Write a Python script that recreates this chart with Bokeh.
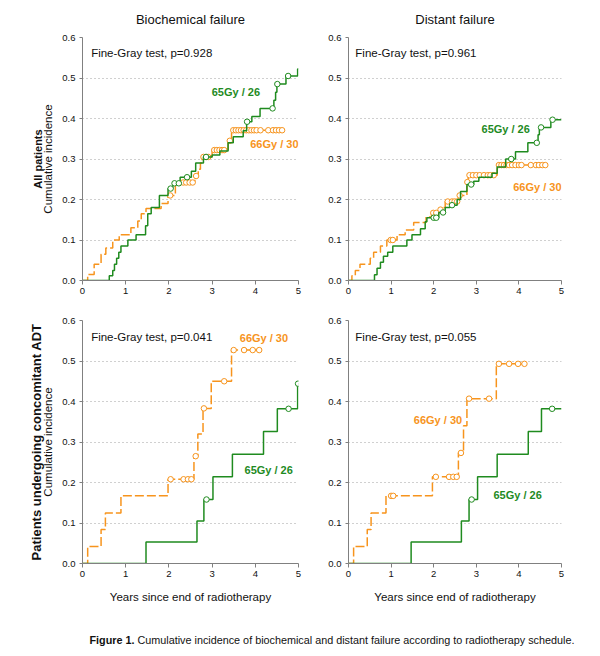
import numpy as np
from bokeh.plotting import figure
from bokeh.models import Range1d, Label, Title, FixedTicker, PrintfTickFormatter, LinearAxis
from bokeh.layouts import column, row
from bokeh.embed import file_html
from bokeh.resources import INLINE

FONT = "Liberation Sans"
GREEN = "#1f8b1f"
ORANGE = "#f7941d"
TXT = "#111111"

x_ticks = [0, 1, 2, 3, 4, 5]
y_ticks = [0.0, 0.1, 0.2, 0.3, 0.4, 0.5, 0.6]

col_titles = ["Biochemical failure", "Distant failure"]
row_titles = ["All patients", "Patients undergoing concomitant ADT"]
y_label = "Cumulative incidence"
x_label = "Years since end of radiotherapy"
series_names = ["65Gy / 26", "66Gy / 30"]
p_texts = ["Fine-Gray test, p=0.928", "Fine-Gray test, p=0.961",
           "Fine-Gray test, p=0.041", "Fine-Gray test, p=0.055"]
caption_bold = "Figure 1."
caption_text = "Cumulative incidence of biochemical and distant failure according to radiotherapy schedule."

# ---- Biochemical failure, all patients ----
bf_all_65_t = [0.62, 0.70, 0.74, 0.79, 0.84, 0.89, 1.05, 1.24, 1.46, 1.51, 1.59, 1.78, 1.98,
               2.09, 2.26, 2.52, 2.62, 2.80, 3.00, 3.18, 3.37, 3.49, 3.72, 3.80, 3.92,
               4.11, 4.43, 4.47, 4.50, 4.71, 4.98]
bf_all_65_v = [0.012, 0.025, 0.04, 0.055, 0.07, 0.085, 0.10, 0.113, 0.135, 0.165, 0.18, 0.21, 0.227,
               0.24, 0.255, 0.27, 0.29, 0.305, 0.31, 0.32, 0.34, 0.355, 0.37, 0.392, 0.405,
               0.425, 0.445, 0.465, 0.485, 0.505, 0.522]
bf_all_65_c = [2.04, 2.13, 2.23, 2.42, 2.86, 3.81, 4.40, 4.51, 4.76]
bf_all_65_end = 5.0

bf_all_66_t = [0.12, 0.27, 0.43, 0.54, 0.70, 0.85, 1.12, 1.28, 1.36, 1.47, 1.82, 1.98, 2.15,
               2.60, 2.68, 2.73, 2.77, 3.00, 3.37, 3.45]
bf_all_66_v = [0.015, 0.04, 0.065, 0.08, 0.10, 0.113, 0.13, 0.147, 0.165, 0.178, 0.19, 0.21, 0.242,
               0.258, 0.275, 0.29, 0.305, 0.322, 0.345, 0.371]
bf_all_66_c = [2.03, 2.33, 2.40, 2.48, 2.55, 2.63, 2.80, 2.86, 2.91, 3.05, 3.11, 3.17, 3.23, 3.28,
               3.41, 3.49, 3.55, 3.61, 3.67, 3.73, 3.79, 3.85, 3.91, 3.97, 4.03, 4.12, 4.30,
               4.41, 4.48, 4.55, 4.62]
bf_all_66_end = 4.64

# ---- Distant failure, all patients ----
df_all_65_t = [0.61, 0.67, 0.75, 0.82, 0.92, 1.04, 1.37, 1.49, 1.69, 1.80, 1.84, 2.12, 2.27, 2.38,
               2.55, 2.63, 2.78, 2.94, 3.06, 3.37, 3.49, 3.69, 3.92, 4.21, 4.45, 4.48, 4.75]
df_all_65_v = [0.014, 0.03, 0.045, 0.06, 0.07, 0.085, 0.10, 0.113, 0.128, 0.145, 0.155, 0.168, 0.18,
               0.186, 0.20, 0.22, 0.237, 0.245, 0.255, 0.265, 0.28, 0.30, 0.318, 0.34, 0.36,
               0.378, 0.397]
df_all_65_c = [2.00, 2.06, 2.22, 2.43, 2.88, 3.82, 4.42, 4.52, 4.79]
df_all_65_end = 5.0

df_all_66_t = [0.08, 0.16, 0.27, 0.51, 0.59, 0.75, 0.90, 1.14, 1.33, 1.53, 1.82, 1.95, 2.12, 2.20,
               2.27, 2.59, 2.78, 2.81, 3.49]
df_all_66_v = [0.012, 0.025, 0.04, 0.055, 0.07, 0.085, 0.10, 0.113, 0.125, 0.143, 0.157, 0.167,
               0.175, 0.18, 0.195, 0.21, 0.243, 0.26, 0.285]
df_all_66_c = [0.99, 1.04, 1.99, 2.06, 2.16, 2.33, 2.43, 2.49, 2.55, 2.61, 2.79, 2.84, 2.92, 3.00,
               3.08, 3.18, 3.27, 3.33, 3.41, 3.53, 3.59, 3.65, 3.71, 3.77, 3.84, 3.92, 4.00,
               4.06, 4.28, 4.40, 4.47, 4.55, 4.62]
df_all_66_end = 4.64

# ---- Biochemical failure, concomitant ADT ----
bf_adt_65_t = [1.47, 2.65, 2.81, 3.02, 3.47, 4.19, 4.51, 4.98]
bf_adt_65_v = [0.053, 0.105, 0.158, 0.214, 0.27, 0.326, 0.382, 0.444]
bf_adt_65_c = [2.87, 4.77, 4.99]
bf_adt_65_end = 5.0

bf_adt_66_t = [0.12, 0.43, 0.53, 0.89, 1.98, 2.58, 2.67, 2.79, 2.98, 3.45]
bf_adt_66_v = [0.042, 0.084, 0.125, 0.167, 0.208, 0.265, 0.32, 0.383, 0.45, 0.527]
bf_adt_66_c = [2.04, 2.34, 2.44, 2.52, 2.62, 2.81, 3.28, 3.50, 3.74, 3.94, 4.09]
bf_adt_66_end = 4.15

# ---- Distant failure, concomitant ADT ----
df_adt_65_t = [1.47, 2.65, 2.83, 3.03, 3.49, 4.22, 4.53]
df_adt_65_v = [0.053, 0.105, 0.158, 0.214, 0.27, 0.326, 0.382]
df_adt_65_c = [2.89, 4.78]
df_adt_65_end = 5.0

df_adt_66_t = [0.12, 0.44, 0.53, 0.88, 1.97, 2.58, 2.70, 2.78, 3.47]
df_adt_66_v = [0.042, 0.084, 0.125, 0.167, 0.214, 0.273, 0.34, 0.407, 0.493]
df_adt_66_c = [1.00, 1.05, 2.05, 2.36, 2.46, 2.54, 2.64, 2.83, 3.30, 3.53, 3.77, 3.98, 4.13]
df_adt_66_end = 4.15


def step_xy(t, v, end):
    xs = [0.0] + list(t) + [end]
    ys = [0.0] + list(v) + [v[-1]]
    return xs, ys


def value_at(t, v, c):
    t = np.asarray(t)
    idx = np.searchsorted(t, np.asarray(c), side="right") - 1
    return [float(v[i]) if i >= 0 else 0.0 for i in idx]


def style_axis(ax):
    ax.axis_line_color = "#808080"
    ax.major_tick_line_color = "#808080"
    ax.minor_tick_line_color = None
    ax.major_tick_in = 0
    ax.major_label_text_font = FONT
    ax.major_label_text_font_size = "9.5px"
    ax.major_label_text_color = TXT
    ax.axis_label_text_font = FONT
    ax.axis_label_text_font_size = "11.5px"
    ax.axis_label_text_font_style = "normal"
    ax.axis_label_text_color = TXT


def make_panel(w, h, bl, br, bt, bb, xlab, ylab, row_title=None, row_size="11px"):
    p = figure(width=w, height=h, x_range=Range1d(0, 5), y_range=Range1d(0, 0.6),
               output_backend="svg", toolbar_location=None,
               min_border_left=bl, min_border_right=br, min_border_top=bt, min_border_bottom=bb)
    p.outline_line_color = None
    p.xgrid.visible = False
    p.ygrid.ticker = FixedTicker(ticks=y_ticks)
    p.ygrid.grid_line_color = "#a0a0a0"
    p.ygrid.grid_line_dash = "1 3"
    p.xaxis.ticker = FixedTicker(ticks=x_ticks)
    p.yaxis.ticker = FixedTicker(ticks=y_ticks)
    p.yaxis.formatter = PrintfTickFormatter(format="%.1f")
    style_axis(p.xaxis[0])
    style_axis(p.yaxis[0])
    p.xaxis.major_tick_out = 4
    p.yaxis.major_tick_out = 3
    p.xaxis.major_label_standoff = 3
    p.yaxis.major_label_standoff = 4
    if xlab:
        p.xaxis.axis_label = x_label
        p.xaxis.axis_label_standoff = 11
    if ylab:
        p.yaxis.axis_label = y_label
        p.yaxis.axis_label_standoff = 5
    if row_title:
        ax2 = LinearAxis(ticker=FixedTicker(ticks=[]), axis_label=row_title,
                         axis_line_color=None, major_tick_line_color=None,
                         minor_tick_line_color=None, major_tick_out=0, major_tick_in=0,
                         major_label_standoff=0, axis_label_standoff=-4,
                         axis_label_text_font=FONT, axis_label_text_font_size=row_size,
                         axis_label_text_font_style="bold", axis_label_text_color=TXT)
        p.add_layout(ax2, "left")
    return p


def draw(p, t, v, c, end, color, dash):
    xs, ys = step_xy(t, v, end)
    p.step(xs, ys, mode="after", line_color=color, line_width=1.5, line_dash=dash)
    p.scatter(c, value_at(t, v, c), marker="circle", size=5.5, fill_color="white",
              line_color=color, line_width=1)


def txt(p, x, y, text, color=TXT, size="11.5px", style="normal", align="center", **kw):
    p.add_layout(Label(x=x, y=y, text=text, text_font=FONT, text_font_size=size,
                       text_font_style=style, text_color=color, text_align=align,
                       text_baseline="middle", **kw))


H1, H2 = 301, 307
DASH = "9 3"

f1 = make_panel(308, H1, 82, 10, 37, 21, False, True, row_titles[0], "11px")
f2 = make_panel(273, H1, 40, 20, 37, 21, False, False)
f3 = make_panel(308, H2, 82, 10, 19, 45, True, True, row_titles[1], "13px")
f4 = make_panel(273, H2, 40, 20, 19, 45, True, False)

draw(f1, bf_all_66_t, bf_all_66_v, bf_all_66_c, bf_all_66_end, ORANGE, DASH)
draw(f1, bf_all_65_t, bf_all_65_v, bf_all_65_c, bf_all_65_end, GREEN, "solid")
draw(f2, df_all_66_t, df_all_66_v, df_all_66_c, df_all_66_end, ORANGE, DASH)
draw(f2, df_all_65_t, df_all_65_v, df_all_65_c, df_all_65_end, GREEN, "solid")
draw(f3, bf_adt_66_t, bf_adt_66_v, bf_adt_66_c, bf_adt_66_end, ORANGE, DASH)
draw(f3, bf_adt_65_t, bf_adt_65_v, bf_adt_65_c, bf_adt_65_end, GREEN, "solid")
draw(f4, df_adt_66_t, df_adt_66_v, df_adt_66_c, df_adt_66_end, ORANGE, DASH)
draw(f4, df_adt_65_t, df_adt_65_v, df_adt_65_c, df_adt_65_end, GREEN, "solid")

# p-value texts
txt(f1, 0.20, 0.562, p_texts[0], align="left")
txt(f2, 0.16, 0.562, p_texts[1], align="left")
txt(f3, 0.20, 0.56, p_texts[2], align="left")
txt(f4, 0.16, 0.56, p_texts[3], align="left")

# series labels
txt(f1, 3.55, 0.465, series_names[0], GREEN, "11px", "bold")
txt(f1, 5.0, 0.337, series_names[1], ORANGE, "11px", "bold", align="right")
txt(f2, 3.69, 0.374, series_names[0], GREEN, "11px", "bold")
txt(f2, 5.0, 0.23, series_names[1], ORANGE, "11px", "bold", align="right")
txt(f3, 4.31, 0.232, series_names[0], GREEN, "11px", "bold")
txt(f3, 4.20, 0.558, series_names[1], ORANGE, "11px", "bold")
txt(f4, 3.97, 0.17, series_names[0], GREEN, "11px", "bold")
txt(f4, 2.10, 0.355, series_names[1], ORANGE, "11px", "bold")

# column titles
for p, t in ((f1, col_titles[0]), (f2, col_titles[1])):
    p.add_layout(Title(text=t, align="center", vertical_align="middle", standoff=20,
                       text_font=FONT, text_font_size="13px", text_font_style="normal",
                       text_color=TXT), "above")

# caption
fc = figure(width=584, height=38, x_range=Range1d(0, 1), y_range=Range1d(0, 1),
            output_backend="svg", toolbar_location=None, x_axis_type=None, y_axis_type=None,
            min_border=0)
fc.outline_line_color = None
fc.grid.visible = False
txt(fc, 89, 7, caption_bold, size="10.8px", style="bold", align="left",
    x_units="screen", y_units="screen")
txt(fc, 137, 7, caption_text, size="10.8px", align="left",
    x_units="screen", y_units="screen")

layout = column(row(f1, f2), row(f3, f4), fc)
open("out.html", "w").write(file_html(layout, INLINE))
